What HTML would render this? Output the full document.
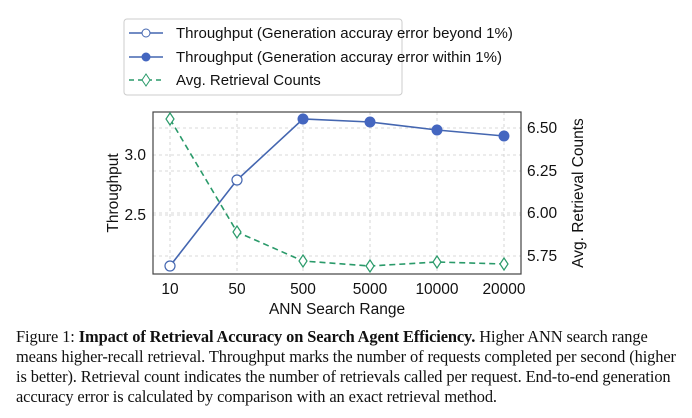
<!DOCTYPE html>
<html><head><meta charset="utf-8"><style>
body{margin:0;background:#fff;width:692px;height:418px;overflow:hidden}
svg{position:absolute;left:0;top:0}
.cap{position:absolute;left:16px;top:327px;width:680px;white-space:nowrap;font-family:"Liberation Serif",serif;font-size:16.4px;line-height:20px;color:#111;letter-spacing:-0.1px}
</style></head><body>
<svg width="692" height="418" font-family="Liberation Sans, sans-serif">
<g stroke="#ccc" stroke-dasharray="3,3" stroke-width="0.8">
<line x1="170" y1="112" x2="170" y2="274"/><line x1="237" y1="112" x2="237" y2="274"/><line x1="303" y1="112" x2="303" y2="274"/><line x1="370" y1="112" x2="370" y2="274"/><line x1="437" y1="112" x2="437" y2="274"/><line x1="504" y1="112" x2="504" y2="274"/>
<line x1="153" y1="155" x2="521" y2="155"/><line x1="153" y1="215" x2="521" y2="215"/>
<line x1="153" y1="128" x2="521" y2="128"/><line x1="153" y1="171" x2="521" y2="171"/><line x1="153" y1="213" x2="521" y2="213"/><line x1="153" y1="256" x2="521" y2="256"/>
</g>
<rect x="153" y="112" width="368" height="162" fill="none" stroke="#444" stroke-width="1.2"/>
<g fill="#111" font-size="15.5" text-anchor="middle">
<text x="170" y="294">10</text><text x="237" y="294">50</text><text x="303" y="294">500</text><text x="370" y="294">5000</text><text x="437" y="294">10000</text><text x="504" y="294">20000</text>
<text x="337" y="314">ANN Search Range</text>
</g>
<g fill="#111" font-size="15.5" text-anchor="end"><text x="146" y="160">3.0</text><text x="146" y="220">2.5</text></g>
<g fill="#111" font-size="15.5"><text x="527" y="133">6.50</text><text x="527" y="176">6.25</text><text x="527" y="218">6.00</text><text x="527" y="261">5.75</text></g>
<text transform="translate(118,193) rotate(-90)" font-size="15.5" text-anchor="middle" fill="#111">Throughput</text>
<text transform="translate(583,193) rotate(-90)" font-size="15.5" text-anchor="middle" fill="#111">Avg. Retrieval Counts</text>
<polyline points="170,119 237,232 303,261 370,266 437,262 504,264" fill="none" stroke="#2a9a6a" stroke-width="1.6" stroke-dasharray="6,4"/>
<g fill="#fff" stroke="#2a9a6a" stroke-width="1.2">
<path d="M170,113 l4,6 l-4,6 l-4,-6z"/><path d="M237,226 l4,6 l-4,6 l-4,-6z"/><path d="M303,255 l4,6 l-4,6 l-4,-6z"/><path d="M370,260 l4,6 l-4,6 l-4,-6z"/><path d="M437,256 l4,6 l-4,6 l-4,-6z"/><path d="M504,258 l4,6 l-4,6 l-4,-6z"/>
</g>
<polyline points="170,266 237,180 303,119 370,122 437,130 504,136" fill="none" stroke="#4466b0" stroke-width="1.6"/>
<g fill="#fff" stroke="#4466b0" stroke-width="1.2"><circle cx="170" cy="266" r="5"/><circle cx="237" cy="180" r="5"/></g>
<g fill="#4466c0"><circle cx="303" cy="119" r="5.5"/><circle cx="370" cy="122" r="5.5"/><circle cx="437" cy="130" r="5.5"/><circle cx="504" cy="136" r="5.5"/></g>
<rect x="124" y="19" width="278" height="76" rx="3" fill="#fff" stroke="#ccc"/>
<line x1="129" y1="33" x2="163" y2="33" stroke="#4466b0" stroke-width="1.6"/><circle cx="146" cy="33" r="4" fill="#fff" stroke="#4466b0"/>
<line x1="129" y1="57" x2="163" y2="57" stroke="#4466b0" stroke-width="1.6"/><circle cx="146" cy="57" r="4.5" fill="#4466c0"/>
<line x1="129" y1="80" x2="163" y2="80" stroke="#2a9a6a" stroke-width="1.6" stroke-dasharray="5,4"/><path d="M146,74 l4,6 l-4,6 l-4,-6z" fill="#fff" stroke="#2a9a6a"/>
<g fill="#111" font-size="15"><text x="176" y="38">Throughput (Generation accuray error beyond 1%)</text><text x="176" y="62">Throughput (Generation accuray error within 1%)</text><text x="176" y="85">Avg. Retrieval Counts</text></g>
</svg>
<div class="cap">Figure 1: <b>Impact of Retrieval Accuracy on Search Agent Efficiency.</b> Higher ANN search range<br>means higher-recall retrieval. Throughput marks the number of requests completed per second (higher<br>is better). Retrieval count indicates the number of retrievals called per request. End-to-end generation<br>accuracy error is calculated by comparison with an exact retrieval method.</div>
</body></html>
